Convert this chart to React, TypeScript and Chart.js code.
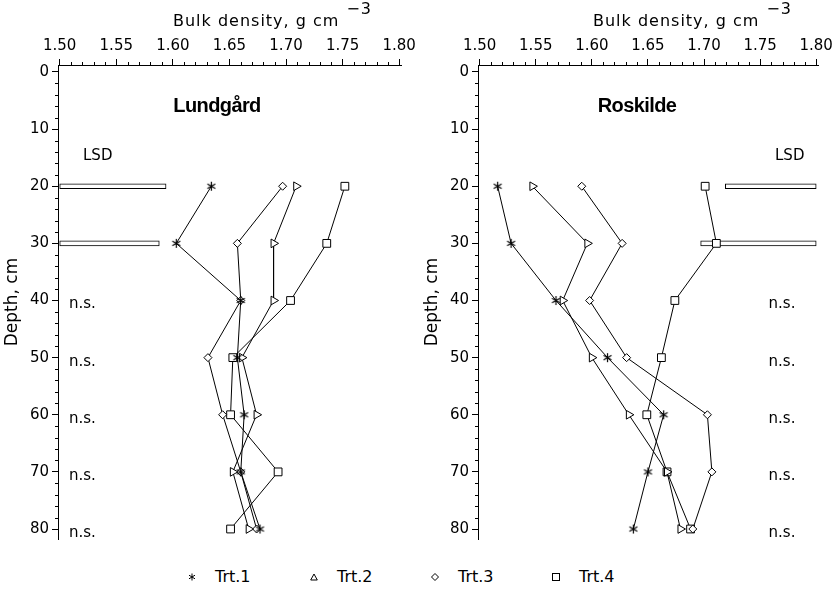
import React, { useEffect, useRef } from 'react';
import { Chart, registerables } from 'chart.js';

Chart.register(...registerables);

// ---------- data ----------
const depths = [20, 30, 40, 50, 60, 70, 80];
const treatments = ['Trt.1', 'Trt.2', 'Trt.3', 'Trt.4'];

const lundgardTrt1 = [1.634, 1.603, 1.660, 1.657, 1.663, 1.660, 1.677];
const lundgardTrt2 = [1.709, 1.689, 1.689, 1.661, 1.674, 1.653, 1.667];
const lundgardTrt3 = [1.697, 1.657, 1.660, 1.631, 1.644, 1.660, 1.674];
const lundgardTrt4 = [1.752, 1.736, 1.704, 1.653, 1.651, 1.693, 1.651];

const roskildeTrt1 = [1.516, 1.528, 1.568, 1.614, 1.664, 1.650, 1.637];
const roskildeTrt2 = [1.547, 1.596, 1.574, 1.600, 1.633, 1.667, 1.679];
const roskildeTrt3 = [1.591, 1.627, 1.598, 1.631, 1.703, 1.707, 1.690];
const roskildeTrt4 = [1.701, 1.711, 1.674, 1.662, 1.649, 1.667, 1.688];

const lsdDepths = [20, 30];
const lundgardLsd = [0.094, 0.088];
const roskildeLsd = [0.081, 0.103];
const nsDepths = [40, 50, 60, 70, 80];

const xTickValues = [1.5, 1.55, 1.6, 1.65, 1.7, 1.75, 1.8];
const yTickValues = [0, 10, 20, 30, 40, 50, 60, 70, 80];
const X_LOW = 1.5;
const X_HIGH = 1.8;

const FONT = 'DejaVu Sans';

function makeAsterisk(): HTMLCanvasElement {
  const c = document.createElement('canvas');
  c.width = 11;
  c.height = 11;
  const g = c.getContext('2d') as CanvasRenderingContext2D;
  g.strokeStyle = '#000';
  g.lineWidth = 1.2;
  g.beginPath();
  const r = 4.6;
  [90, 30, 150].forEach((deg) => {
    const a = (deg * Math.PI) / 180;
    g.moveTo(5.5 - Math.cos(a) * r, 5.5 - Math.sin(a) * r);
    g.lineTo(5.5 + Math.cos(a) * r, 5.5 + Math.sin(a) * r);
  });
  g.stroke();
  return c;
}

const markerStyles: any[] = [
  { pointStyle: 'asterisk', radius: 5, rotation: 0 },
  { pointStyle: 'triangle', radius: 5, rotation: 90 },
  { pointStyle: 'rectRot', radius: 4, rotation: 0 },
  { pointStyle: 'rect', radius: 5.5, rotation: 0 },
];

const annotPlugin = {
  id: 'annot',
  afterDatasetsDraw(chart: any, _args: any, opts: any) {
    const { ctx, chartArea: ca, scales } = chart;
    const xs = scales.x;
    const ys = scales.y;
    ctx.save();
    ctx.fillStyle = '#000';
    ctx.strokeStyle = '#000';
    ctx.lineWidth = 1;

    // minor ticks
    ctx.beginPath();
    for (let i = 1; i < 30; i++) {
      if (i % 5 === 0) continue;
      const px = Math.round(xs.getPixelForValue(X_LOW + i * 0.01)) + 0.5;
      ctx.moveTo(px, ca.top);
      ctx.lineTo(px, ca.top - 3);
    }
    for (let d = 2; d <= 80; d += 2) {
      if (d % 10 === 0) continue;
      const py = Math.round(ys.getPixelForValue(d)) + 0.5;
      ctx.moveTo(ca.left, py);
      ctx.lineTo(ca.left - 3, py);
    }
    ctx.stroke();

    // x axis title with superscript
    ctx.font = `16px "${FONT}"`;
    (ctx as any).letterSpacing = '1px';
    ctx.textAlign = 'left';
    ctx.textBaseline = 'alphabetic';
    const t = 'Bulk density, g cm';
    const tx = ca.left + 115;
    ctx.fillText(t, tx, 26);
    const w = ctx.measureText(t).width;
    ctx.fillText('\u22123', tx + w + 7, 14);
    (ctx as any).letterSpacing = '0px';

    // site name
    ctx.font = `bold 20px "Liberation Sans"`;
    (ctx as any).letterSpacing = '-0.6px';
    ctx.textAlign = 'center';
    ctx.textBaseline = 'middle';
    ctx.fillText(opts.site, ca.left + 159, ca.top + 41);
    (ctx as any).letterSpacing = '0px';

    // LSD and n.s. labels
    ctx.font = `15px "${FONT}"`;
    ctx.textBaseline = 'middle';
    if (opts.side === 'left') {
      ctx.textAlign = 'left';
      ctx.fillText('LSD', ca.left + 25, ca.top + 91.5);
      nsDepths.forEach((d) => ctx.fillText('n.s.', ca.left + 11, ys.getPixelForValue(d) + 4));
    } else {
      ctx.textAlign = 'right';
      ctx.fillText('LSD', ca.right - 14, ca.top + 91.5);
      nsDepths.forEach((d) => ctx.fillText('n.s.', ca.right - 23, ys.getPixelForValue(d) + 4));
    }
    ctx.restore();
  },
};

type PanelProps = {
  site: string;
  series: number[][];
  lsd: number[];
  side: 'left' | 'right';
  left: number;
  width: number;
};

const CANVAS_H = 552;

function Panel({ site, series, lsd, side, left, width }: PanelProps) {
  const ref = useRef<HTMLCanvasElement>(null);

  useEffect(() => {
    const asterisk = makeAsterisk();
    const datasets: any[] = series.map((vals, i) => ({
      type: 'line',
      label: treatments[i],
      data: depths.map((d, j) => ({ x: vals[j], y: d })),
      borderColor: '#000',
      borderWidth: 1,
      backgroundColor: '#fff',
      pointStyle: markerStyles[i].pointStyle === 'asterisk' ? asterisk : markerStyles[i].pointStyle,
      pointRadius: markerStyles[i].radius,
      pointRotation: markerStyles[i].rotation,
      pointBorderColor: '#000',
      pointBackgroundColor: '#fff',
      pointBorderWidth: 1,
      tension: 0,
      fill: false,
      order: 0,
    }));
    datasets.push({
      type: 'bar',
      label: 'LSD',
      indexAxis: 'y',
      data: lsdDepths.map((d, j) => ({
        x: side === 'left' ? [X_LOW, X_LOW + lsd[j]] : [X_HIGH - lsd[j], X_HIGH],
        y: d,
      })),
      backgroundColor: '#fff',
      borderColor: '#000',
      borderWidth: 1,
      borderSkipped: false,
      barThickness: 5,
      order: 1,
    });

    const chart = new Chart(ref.current as HTMLCanvasElement, {
      type: 'line',
      data: { datasets },
      options: {
        responsive: false,
        animation: false,
        events: [],
        layout: { padding: { left: 0, top: 0, right: width - 402, bottom: CANVAS_H - 539 } },
        plugins: {
          legend: { display: false },
          tooltip: { enabled: false },
          annot: { site, side },
        } as any,
        scales: {
          x: {
            type: 'linear',
            position: 'top',
            offset: false,
            beginAtZero: false,
            min: 1.4985,
            max: 1.802,
            afterBuildTicks: (s: any) => {
              s.ticks = xTickValues.map((v) => ({ value: v }));
            },
            ticks: {
              callback: (v: any) => Number(v).toFixed(2),
              font: { family: FONT, size: 15 },
              color: '#000',
              padding: 4,
              maxRotation: 0,
              minRotation: 0,
              autoSkip: false,
              mirror: false,
            },
            grid: { offset: false, drawOnChartArea: false, tickLength: 6, tickColor: '#000', tickWidth: 1 },
            border: { display: true, color: '#000', width: 1 },
            afterFit: (s: any) => {
              s.height = 65;
            },
          },
          y: {
            type: 'linear',
            reverse: true,
            offset: false,
            beginAtZero: false,
            min: -1.225,
            max: 81.75,
            afterBuildTicks: (s: any) => {
              s.ticks = yTickValues.map((v) => ({ value: v }));
            },
            ticks: {
              callback: (v: any) => String(v),
              font: { family: FONT, size: 15 },
              color: '#000',
              padding: 3,
              autoSkip: false,
              mirror: false,
              crossAlign: 'near',
            },
            grid: { offset: false, drawOnChartArea: false, tickLength: 6, tickColor: '#000', tickWidth: 1 },
            border: { display: true, color: '#000', width: 1 },
            title: {
              display: true,
              text: 'Depth, cm',
              font: { family: FONT, size: 17 },
              color: '#000',
              padding: { top: 2, bottom: 0 },
            },
            afterFit: (s: any) => {
              s.width = 58;
            },
          },
        },
      } as any,
      plugins: [annotPlugin],
    });
    return () => chart.destroy();
  }, []);

  return (
    <canvas
      ref={ref}
      width={width}
      height={CANVAS_H}
      style={{ position: 'absolute', left, top: 0, width, height: CANVAS_H }}
    />
  );
}

function Marker({ kind }: { kind: number }) {
  const common = { fill: 'none', stroke: '#000', strokeWidth: 1 };
  let shape: any = null;
  if (kind === 0) {
    shape = (
      <g {...common}>
        <line x1={5} y1={1.5} x2={5} y2={8.5} />
        <line x1={2} y1={3.2} x2={8} y2={6.8} />
        <line x1={2} y1={6.8} x2={8} y2={3.2} />
      </g>
    );
  } else if (kind === 1) {
    shape = <polygon points="5,2 8.3,8 1.7,8" {...common} />;
  } else if (kind === 2) {
    shape = <polygon points="5,1.5 8.5,5 5,8.5 1.5,5" {...common} />;
  } else {
    shape = <rect x={1.5} y={1.5} width={7} height={7} {...common} />;
  }
  return (
    <svg width={10} height={10} style={{ display: 'block' }}>
      {shape}
    </svg>
  );
}

const legendLefts = [187, 309, 430, 551];

export default function App() {
  return (
    <div style={{ position: 'absolute', left: 0, top: 0, width: 837, height: 589, background: '#fff' }}>
      <Panel
        site="Lundgård"
        series={[lundgardTrt1, lundgardTrt2, lundgardTrt3, lundgardTrt4]}
        lsd={lundgardLsd}
        side="left"
        left={0}
        width={420}
      />
      <Panel
        site="Roskilde"
        series={[roskildeTrt1, roskildeTrt2, roskildeTrt3, roskildeTrt4]}
        lsd={roskildeLsd}
        side="right"
        left={420}
        width={417}
      />
      {treatments.map((label, i) => (
        <div
          key={label}
          style={{
            position: 'absolute',
            left: legendLefts[i],
            top: 567,
            display: 'flex',
            alignItems: 'center',
            fontFamily: FONT,
            fontSize: 16,
            lineHeight: '20px',
            color: '#000',
          }}
        >
          <Marker kind={i} />
          <span style={{ marginLeft: 18 }}>{label}</span>
        </div>
      ))}
    </div>
  );
}
